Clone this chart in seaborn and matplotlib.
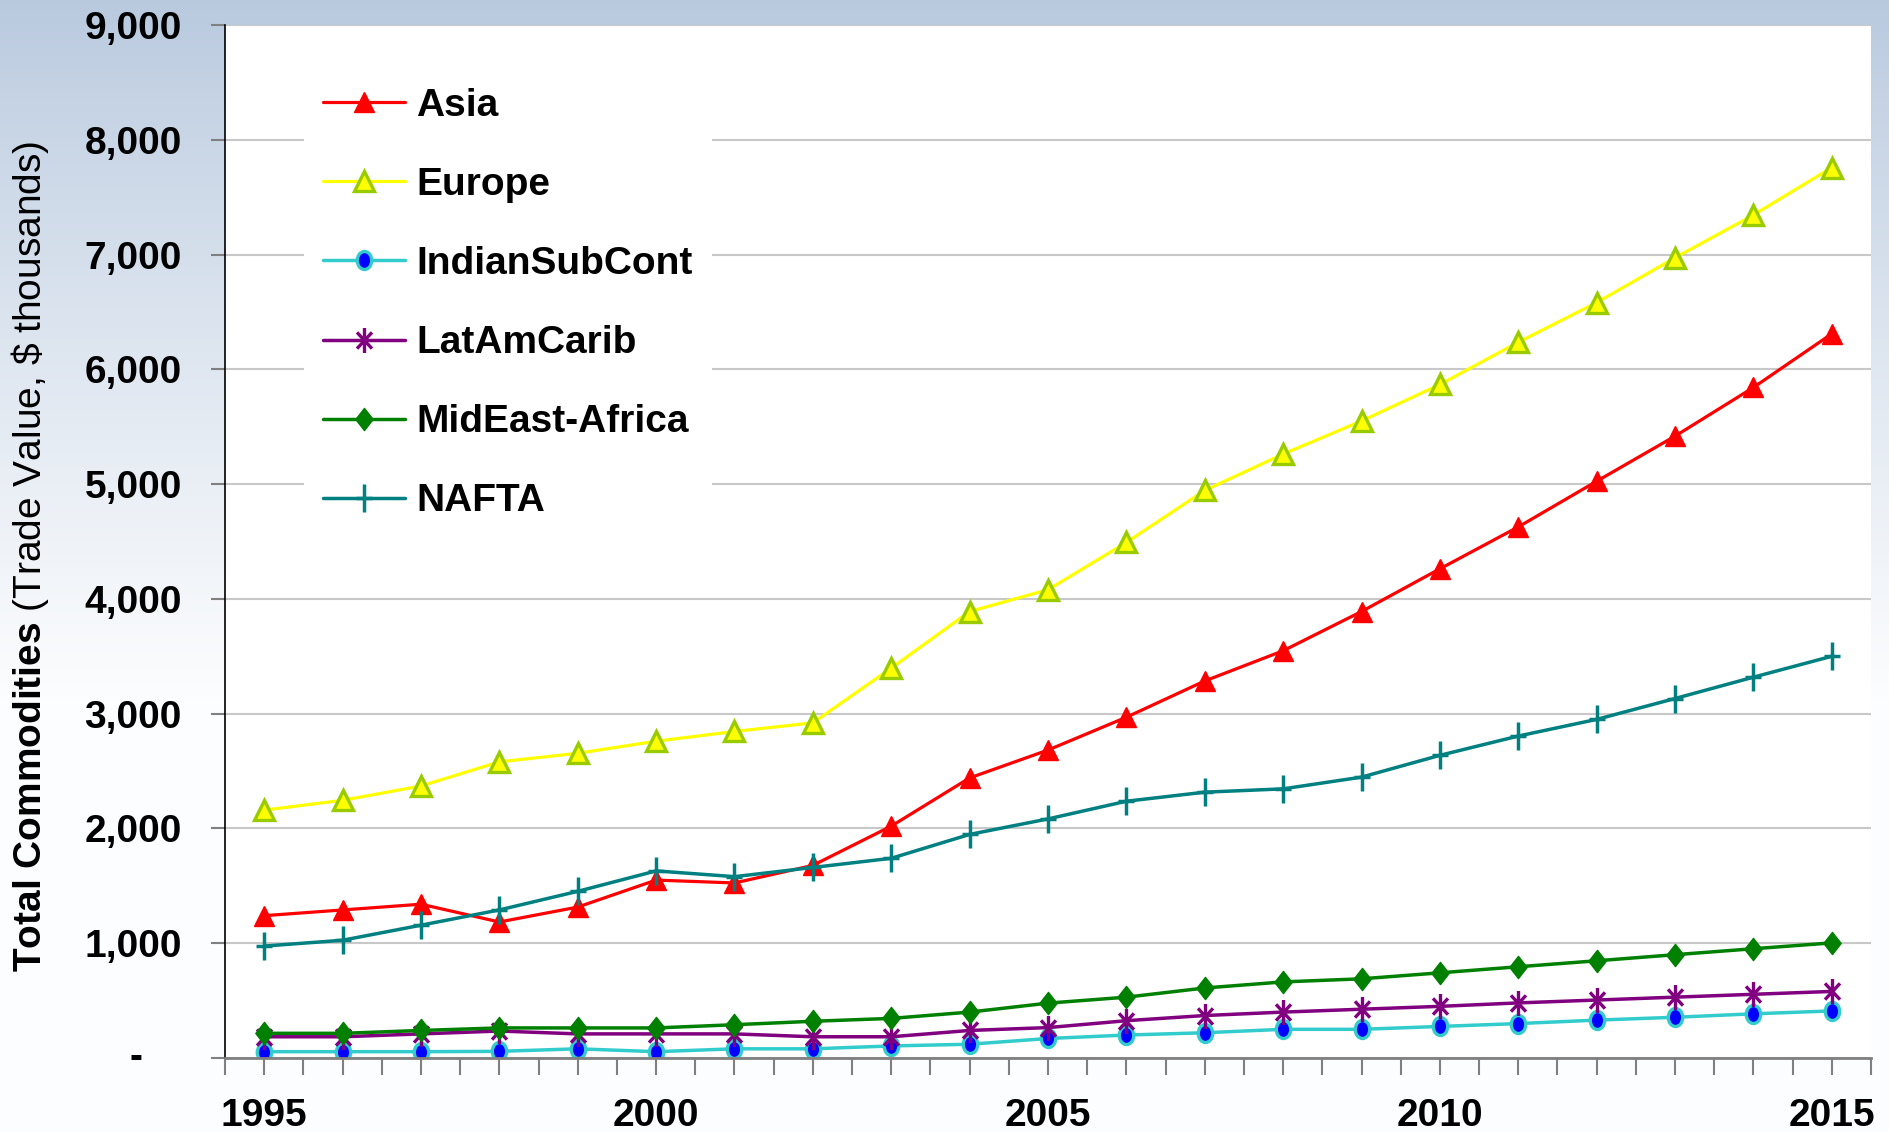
import numpy as np
import matplotlib
matplotlib.use("Agg")
import matplotlib.pyplot as plt
import seaborn as sns
from matplotlib.ticker import FixedLocator
from matplotlib.path import Path

# ---------------- data ----------------
years = list(range(1995, 2016))
asia = [1240, 1290, 1340, 1185, 1315, 1550, 1525, 1678, 2020, 2440, 2683,
        2969, 3285, 3548, 3890, 4262, 4627, 5025, 5418, 5842, 6310]
europe = [2160, 2245, 2370, 2580, 2655, 2760, 2845, 2920, 3397, 3890, 4080,
          4492, 4945, 5262, 5550, 5868, 6236, 6582, 6972, 7345, 7758]
indian = [55, 55, 55, 58, 80, 55, 80, 80, 105, 120, 170,
          200, 220, 250, 250, 275, 300, 330, 355, 385, 410]
latam = [185, 185, 210, 235, 210, 210, 210, 185, 185, 240, 265,
         325, 370, 400, 425, 450, 480, 505, 530, 555, 580]
mideast = [215, 215, 240, 262, 262, 262, 290, 320, 345, 400, 478,
           530, 610, 663, 690, 742, 795, 847, 900, 952, 1003]
nafta = [975, 1026, 1157, 1290, 1452, 1630, 1580, 1660, 1740, 1948, 2083,
         2237, 2316, 2345, 2447, 2637, 2805, 2950, 3132, 3318, 3500]

series_names = ["Asia", "Europe", "IndianSubCont", "LatAmCarib",
                "MidEast-Africa", "NAFTA"]
series_values = [asia, europe, indian, latam, mideast, nafta]

y_ticks = [0, 1000, 2000, 3000, 4000, 5000, 6000, 7000, 8000, 9000]
y_tick_labels = ["", "1,000", "2,000", "3,000", "4,000", "5,000",
                 "6,000", "7,000", "8,000", "9,000"]
x_tick_years = [1995, 2000, 2005, 2010, 2015]
x_tick_labels = ["1995", "2000", "2005", "2010", "2015"]
y_label = r"$\mathbf{Total\ Commodities}$ (Trade Value, \$ thousands)"

# ---------------- marker shapes (slightly tall, like the source) ----------------
M, L, C = Path.MOVETO, Path.LINETO, Path.CLOSEPOLY
plus_tall = Path([(-0.6, 0), (0.6, 0), (0, -1), (0, 1)], [M, L, M, L])
star_tall = Path([(0, -1), (0, 1), (-0.6, -0.65), (0.6, 0.65), (-0.6, 0.65), (0.6, -0.65)],
                 [M, L, M, L, M, L])
diamond = Path([(0, 1), (0.78, 0), (0, -1), (-0.78, 0), (0, 1)], [M, L, L, L, C])
circ = Path.unit_circle()
oval = Path(circ.vertices * np.array([0.8, 1.0]), circ.codes)

styles = {
    "Asia": dict(color="#ff0000", marker="^", markersize=15, markerfacecolor="#ff0000",
                 markeredgecolor="#ff0000", markeredgewidth=1, linewidth=2.3),
    "Europe": dict(color="#ffff00", marker="^", markersize=14, markerfacecolor="#ffff00",
                   markeredgecolor="#99cc00", markeredgewidth=2.4, linewidth=2.3),
    "IndianSubCont": dict(color="#33cccc", marker=oval, markersize=13, markerfacecolor="#0000ff",
                          markeredgecolor="#33cccc", markeredgewidth=2.4, linewidth=2.5),
    "LatAmCarib": dict(color="#800080", marker=star_tall, markersize=18, markerfacecolor="none",
                       markeredgecolor="#800080", markeredgewidth=2.4, linewidth=2.5),
    "MidEast-Africa": dict(color="#008000", marker=diamond, markersize=16, markerfacecolor="#008000",
                           markeredgecolor="#008000", markeredgewidth=1, linewidth=2.5),
    "NAFTA": dict(color="#008080", marker=plus_tall, markersize=20, markerfacecolor="none",
                  markeredgecolor="#008080", markeredgewidth=2.5, linewidth=2.5),
}

sns.set_theme(style="white")
plt.rcParams['font.family'] = ['Liberation Sans', 'DejaVu Sans']
plt.rcParams['mathtext.fontset'] = 'custom'
plt.rcParams['mathtext.rm'] = 'Liberation Sans'
plt.rcParams['mathtext.bf'] = 'Liberation Sans:bold'
plt.rcParams['mathtext.it'] = 'Liberation Sans:italic'
plt.rcParams['text.color'] = 'black'
plt.rcParams['axes.labelcolor'] = 'black'
plt.rcParams['xtick.labelcolor'] = 'black'
plt.rcParams['ytick.labelcolor'] = 'black'

W, H = 1889, 1132
fig = plt.figure(figsize=(W / 100, H / 100), dpi=100)

# background gradient
bg = fig.add_axes([0, 0, 1, 1], zorder=-10)
t = np.linspace(0, 1, H)
f = np.clip(t / 0.62, 0, 1) ** 0.85
top = np.array([0.722, 0.788, 0.871])
bot = np.array([0.99, 0.993, 0.997])
img = top[None, :] + (bot - top)[None, :] * f[:, None]
img = np.repeat(img[:, None, :], 4, axis=1)
bg.imshow(img, aspect="auto", extent=[0, 1, 0, 1])
bg.axis("off")

ax = fig.add_axes([225 / W, 1 - 1058 / H, 1646 / W, 1033 / H], zorder=1)
ax.set_facecolor("white")

for name, vals in zip(series_names, series_values):
    sns.lineplot(x=years, y=vals, ax=ax, label=name, **styles[name])

ax.set_xlim(1994.5, 2015.5)
ax.set_ylim(0, 9000)

ax.grid(True, axis="y", color="#c8c8c8", linewidth=1.5)
ax.grid(False, axis="x")
ax.set_axisbelow(True)

for s in ["top", "right"]:
    ax.spines[s].set_visible(False)
ax.spines["left"].set_color("black")
ax.spines["left"].set_linewidth(1.2)
ax.spines["bottom"].set_color("#808080")
ax.spines["bottom"].set_linewidth(2)

ax.xaxis.set_major_locator(FixedLocator(x_tick_years))
ax.set_xticklabels(x_tick_labels, fontweight="bold", fontsize=28, color="black")
ax.xaxis.set_minor_locator(FixedLocator(np.arange(1994.5, 2015.6, 0.5)))
ax.tick_params(axis="x", which="both", direction="out", length=12, width=1.5,
               color="#808080", bottom=True)
ax.tick_params(axis="x", which="major", pad=17)

ax.set_yticks(y_ticks)
ax.set_yticklabels(y_tick_labels, fontweight="bold", fontsize=28, color="black")
ax.tick_params(axis="y", which="major", direction="out", length=10, width=1.5,
               color="#808080", left=True, pad=21)

ax.annotate("-", xy=(0, 0), xycoords=("axes fraction", "data"), xytext=(-89, 0),
            textcoords="offset pixels", ha="center", va="center",
            fontsize=28, fontweight="bold", color="black")

ax.set_xlabel("")
ax.set_ylabel(y_label, fontsize=28, va="center", color="black")
ax.yaxis.set_label_coords(-0.1185, 0.486)

leg = ax.legend(loc="upper left", bbox_to_anchor=(0.036, 0.977), frameon=True,
                facecolor="white", edgecolor="none", fancybox=False, framealpha=1,
                prop={"weight": "bold", "size": 28}, handlelength=2.1,
                handletextpad=0.3, labelspacing=1.11, borderpad=0.5)
for txt in leg.get_texts():
    txt.set_color("black")

fig.savefig("out.png", dpi=100)
